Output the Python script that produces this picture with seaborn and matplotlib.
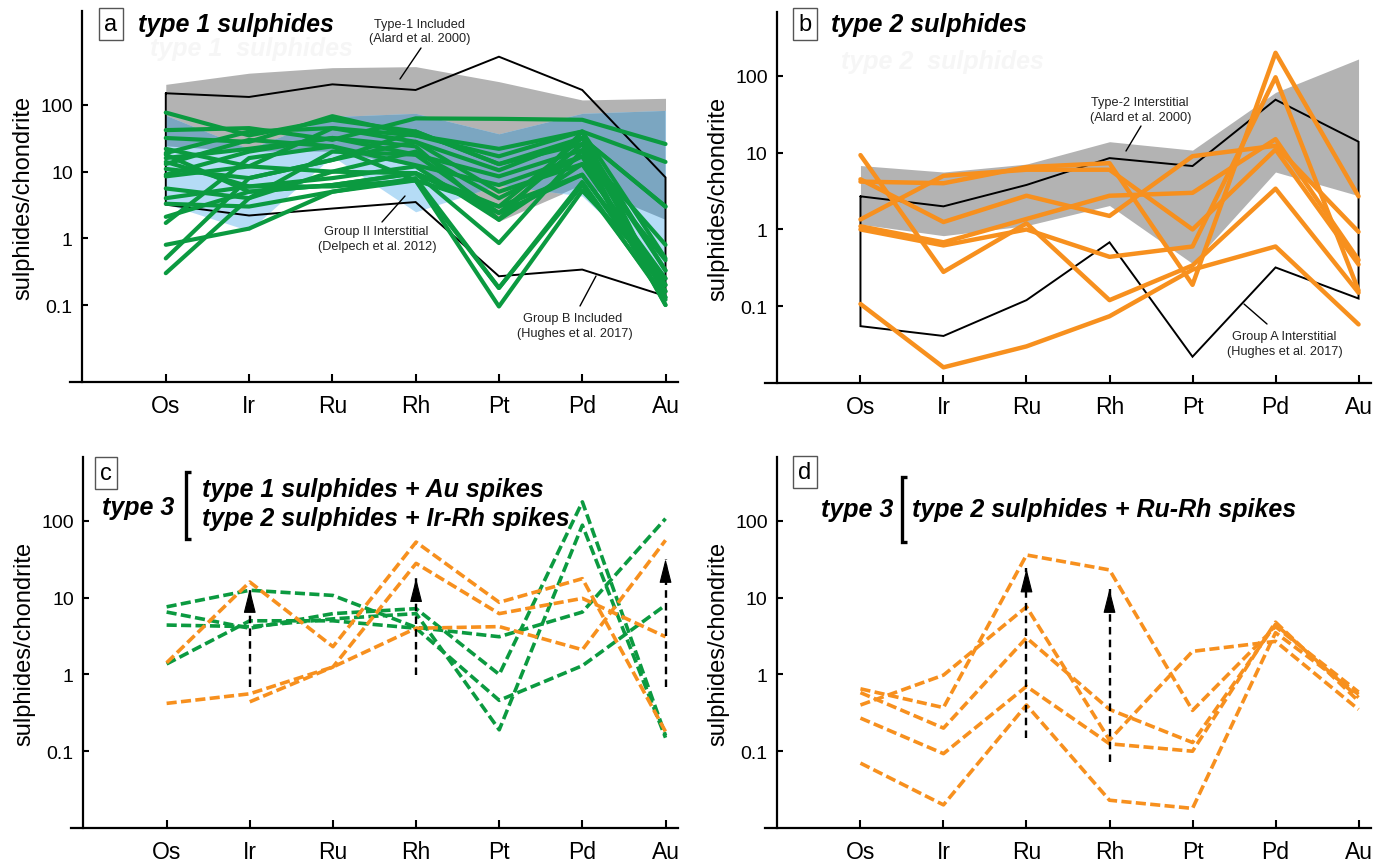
import numpy as np
import pandas as pd
import matplotlib
matplotlib.use("Agg")
import matplotlib.pyplot as plt
import seaborn as sns
from matplotlib.lines import Line2D

# ---------------- data ----------------
elements = ["Os", "Ir", "Ru", "Rh", "Pt", "Pd", "Au"]
ytick_vals = [0.1, 1, 10, 100]
ytick_labels = ["0.1", "1", "10", "100"]

# panel a : type 1 sulphides
a_type1_incl_upper = [204, 300, 363, 376, 224, 119, 126]
a_type1_incl_lower = [24, 20, 20, 12, 1.8, 6.3, 1.9]
a_groupII_upper = [70, 22, 67, 75, 37, 75, 83]
a_groupII_lower = [3.3, 1.3, 17, 2.5, 6.3, 4.3, 0.28]
a_groupB_upper = [150, 132, 204, 168, 530, 168, 8.2]
a_groupB_lower = [3.2, 2.2, 2.8, 3.5, 0.27, 0.34, 0.136]
a_green = [
    [77, 35, 60, 40, 13, 26, 0.33],
    [42, 45, 30, 63, 62, 60, 26],
    [32, 28, 68, 35, 22, 40, 14],
    [19, 40, 45, 28, 10.5, 32, 3.0],
    [16, 22, 32, 18, 8.5, 21, 0.8],
    [13, 30, 24, 12.5, 6.3, 17, 0.47],
    [11, 8, 15, 28, 5, 13, 0.25],
    [8.5, 12, 10, 9.5, 3, 9, 0.2],
    [5.6, 4, 20, 18, 2.4, 26, 0.16],
    [4, 6, 8, 12, 1.9, 40, 0.13],
    [2.1, 5, 6.3, 9.5, 0.85, 21, 0.1],
    [1.7, 16, 24, 7.4, 0.18, 6.3, 0.13],
    [0.8, 1.4, 5, 7.4, 0.095, 5.2, 0.25],
    [0.5, 8, 15, 40, 13, 32, 0.33],
    [0.3, 4, 10, 20, 4, 17, 0.1],
    [22, 12, 45, 35, 17, 40, 0.5],
    [18, 5, 6.3, 9.5, 2.4, 9, 0.16],
    [9, 20, 32, 24, 1.9, 13, 0.2],
    [3.3, 3, 5, 8, 0.18, 7, 0.12],
    [14, 6, 6, 7.4, 3, 32, 3.0],
]

# panel b : type 2 sulphides
b_type2_upper = [6.8, 5.6, 7.1, 13.9, 10.8, 61, 166]
b_type2_lower = [1.17, 0.83, 1.12, 2.05, 0.36, 5.6, 2.75]
b_groupA_upper = [2.7, 2.0, 3.8, 8.5, 6.7, 49, 13.9]
b_groupA_lower = [0.055, 0.041, 0.12, 0.68, 0.022, 0.32, 0.126]
b_orange = [
    [9.3, 0.28, 1.2, 0.12, 0.34, 3.4, 0.15],
    [0.107, 0.016, 0.03, 0.074, 0.3, 0.6, 0.058],
    [4.2, 4.0, 6.5, 7.3, 0.19, 200, 2.7],
    [1.35, 5.0, 6.0, 6.0, 1.0, 11, 0.35],
    [4.5, 1.25, 2.75, 1.5, 9.0, 12.3, 0.93],
    [1.1, 0.68, 1.37, 2.75, 3.0, 15, 0.4],
    [1.0, 0.62, 1.0, 0.44, 0.6, 96, 0.16],
]

# panel c : type 3 (dashed)
c_green = [
    [7.6, 12.5, 10.7, 4.1, 3.1, 6.5, 107],
    [6.5, 4.0, 6.2, 7.2, 1.0, 177, 0.16],
    [4.4, 4.2, 5.3, 6.2, 0.19, 88, 0.15],
    [1.37, 5.0, 5.0, 4.0, 0.46, 1.3, 8.0],
]
c_orange = [
    [1.42, 16, 2.3, 53, 8.7, 17.7, 0.18],
    [0.42, 0.56, 1.25, 4.0, 4.2, 2.1, 56],
    [np.nan, 0.44, 1.25, 28, 6.2, 9.8, 3.1],
]
c_arrow_el = ["Ir", "Rh", "Au"]
c_arrow_from = [0.68, 0.98, 0.68]
c_arrow_to = [13, 18, 32]

# panel d : type 3 (dashed)
d_orange = [
    [0.65, 0.37, 36, 23, 0.34, 4.2, 0.59],
    [0.4, 0.98, 7.6, 0.14, 2.0, 2.7, 0.35],
    [0.58, 0.2, 3.0, 0.35, 0.13, 4.5, 0.5],
    [0.27, 0.093, 0.7, 0.125, 0.1, 4.8, 0.45],
    [0.07, 0.02, 0.4, 0.023, 0.018, 3.5, 0.55],
]
d_arrow_el = ["Ru", "Rh"]
d_arrow_from = [0.15, 0.072]
d_arrow_to = [24, 13]

# ---------------- style ----------------
sns.set_style("ticks")
plt.rcParams["font.family"] = ["Liberation Sans", "DejaVu Sans"]
for k in ["text.color", "axes.labelcolor", "xtick.color", "ytick.color", "axes.edgecolor"]:
    plt.rcParams[k] = "black"

GREEN = "#0b9a40"
ORANGE = "#f7901e"
GRAY = "#b3b3b3"
LBLUE = "#b5dcf6"
DBLUE = "#7ba6c1"

W, H = 1384, 862
fig = plt.figure(figsize=(W / 100, H / 100), dpi=100)


def fx(x):
    return x / W


def fy(y):
    return 1 - y / H


xpos = np.arange(len(elements))


def make_axes(l, r, t, b, ylim):
    ax = fig.add_axes([fx(l), fy(b), (r - l) / W, (b - t) / H])
    ax.set_yscale("log")
    ax.set_xlim(-1.15, 6.15)
    ax.set_ylim(*ylim)
    for s in ["top", "right"]:
        ax.spines[s].set_visible(False)
    ax.spines["left"].set_position(("data", -1))
    ax.spines["left"].set_linewidth(1.6)
    ax.spines["bottom"].set_linewidth(1.6)
    ax.set_yticks(ytick_vals)
    ax.set_yticklabels(ytick_labels)
    ax.yaxis.set_minor_locator(matplotlib.ticker.NullLocator())
    ax.tick_params(axis="x", direction="in", length=6, width=1.5, pad=9, labelsize=16.5)
    ax.tick_params(axis="y", direction="in", length=4, width=1.5, pad=7, labelsize=14)
    return ax


def finish_axes(ax):
    ax.set_xticks(xpos)
    ax.set_xticklabels(elements)
    ax.set_xlim(-1.15, 6.15)
    ax.set_xlabel("")
    ax.set_ylabel("sulphides/chondrite", fontsize=17, labelpad=4)


def long_df(lines):
    rows = []
    for i, vals in enumerate(lines):
        for j, v in enumerate(vals):
            if not np.isnan(v):
                rows.append({"line": i, "x": j, "v": v})
    return pd.DataFrame(rows)


def envelope(ax, upper, lower):
    xs = list(xpos) + list(xpos[::-1]) + [xpos[0]]
    ys = list(upper) + list(lower[::-1]) + [upper[0]]
    ax.plot(xs, ys, color="black", lw=1.4, zorder=3, solid_joinstyle="miter")


def panel_title(letter, bx, by, title, tx):
    fig.text(fx(bx), fy(by), letter, ha="center", va="center", fontsize=17,
             bbox=dict(boxstyle="square,pad=0.22", fc="white", ec="#555555", lw=1.0))
    if title:
        fig.text(fx(tx), fy(by), title, ha="left", va="center", fontsize=18,
                 fontweight="bold", fontstyle="italic")


def note(txt1, txt2, c1, c2, seg):
    fig.text(fx(c1[0]), fy(c1[1]), txt1, ha="center", va="center", fontsize=9.2,
             color="#222222")
    fig.text(fx(c2[0]), fy(c2[1]), txt2, ha="center", va="center", fontsize=9.2,
             color="#222222")
    (x0, y0), (x1, y1) = seg
    fig.add_artist(Line2D([fx(x0), fx(x1)], [fy(y0), fy(y1)], color="black", lw=1.0,
                          transform=fig.transFigure))


def bracket(x, y0, y1):
    fig.add_artist(Line2D([fx(x + 5), fx(x), fx(x), fx(x + 5)], [fy(y0), fy(y0), fy(y1), fy(y1)],
                          color="black", lw=2.4, transform=fig.transFigure,
                          solid_joinstyle="miter", solid_capstyle="butt"))


def arrows(ax, els, frm, to):
    for e, a, b in zip(els, frm, to):
        xi = elements.index(e)
        ax.plot([xi, xi], [a, b], color="black", lw=1.7, ls=(0, (3.2, 2.2)), zorder=6)
        ax.annotate("", xy=(xi, b), xytext=(0, -15), textcoords="offset points",
                    arrowprops=dict(arrowstyle="-|>,head_length=0.95,head_width=0.24",
                                    lw=0.8, color="black", shrinkA=0, shrinkB=0,
                                    mutation_scale=16),
                    zorder=7)


DASH = (0, (2.8, 1.2))

# ---------------- panel a ----------------
axa = make_axes(70, 678, 12, 383, (0.0070, 2570))
g = axa.fill_between(xpos, a_type1_incl_lower, a_type1_incl_upper, color=GRAY, lw=0, zorder=1)
axa.fill_between(xpos, a_groupII_lower, a_groupII_upper, color=LBLUE, lw=0, zorder=1.1)
ov = axa.fill_between(xpos, a_groupII_lower, a_groupII_upper, color=DBLUE, lw=0, zorder=1.2)
ov.set_clip_path(g.get_paths()[0], axa.transData)
envelope(axa, a_groupB_upper, a_groupB_lower)
sns.lineplot(data=long_df(a_green), x="x", y="v", units="line", estimator=None,
             color=GREEN, lw=3.0, ax=axa, legend=False, zorder=4, sort=False)
finish_axes(axa)
panel_title("a", 111, 25, "type 1 sulphides", 138)
fig.text(fx(251), fy(49), "type 1  sulphides", ha="center", va="center", fontsize=18,
         fontweight="bold", fontstyle="italic", color="#f6f6f6", zorder=0)
note("Type-1 Included", "(Alard et al. 2000)", (419, 25), (420, 39), ((421, 49), (400, 80)))
note("Group II Interstitial", "(Delpech et al. 2012)", (376, 232), (377, 247),
     ((405, 197), (382, 223)))
note("Group B Included", "(Hughes et al. 2017)", (573, 319), (575, 334),
     ((596, 277), (580, 307)))

# ---------------- panel b ----------------
axb = make_axes(765, 1371, 13, 384, (0.01, 680))
axb.fill_between(xpos, b_type2_lower, b_type2_upper, color=GRAY, lw=0, zorder=1)
envelope(axb, b_groupA_upper, b_groupA_lower)
sns.lineplot(data=long_df(b_orange), x="x", y="v", units="line", estimator=None,
             color=ORANGE, lw=3.2, ax=axb, legend=False, zorder=4, sort=False)
finish_axes(axb)
panel_title("b", 805, 25, "type 2 sulphides", 831)
fig.text(fx(942), fy(62), "type 2  sulphides", ha="center", va="center", fontsize=18,
         fontweight="bold", fontstyle="italic", color="#f6f6f6", zorder=0)
note("Type-2 Interstitial", "(Alard et al. 2000)", (1140, 103), (1141, 118),
     ((1141, 127), (1126, 152)))
note("Group A Interstitial", "(Hughes et al. 2017)", (1284, 337), (1285, 352),
     ((1267, 325), (1244, 305)))

# ---------------- panel c ----------------
axc = make_axes(71, 678, 458, 829, (0.01, 680))
sns.lineplot(data=long_df(c_green), x="x", y="v", units="line", estimator=None,
             color=GREEN, lw=2.6, linestyle=DASH, ax=axc, legend=False, zorder=4, sort=False)
sns.lineplot(data=long_df(c_orange), x="x", y="v", units="line", estimator=None,
             color=ORANGE, lw=2.6, linestyle=DASH, ax=axc, legend=False, zorder=4, sort=False)
finish_axes(axc)
arrows(axc, c_arrow_el, c_arrow_from, c_arrow_to)
panel_title("c", 106, 474, None, None)
fig.text(fx(138), fy(508), "type 3", ha="center", va="center", fontsize=18,
         fontweight="bold", fontstyle="italic")
bracket(186, 473, 540)
fig.text(fx(202), fy(490), "type 1 sulphides + Au spikes", ha="left", va="center",
         fontsize=18, fontweight="bold", fontstyle="italic")
fig.text(fx(202), fy(519), "type 2 sulphides + Ir-Rh spikes", ha="left", va="center",
         fontsize=18, fontweight="bold", fontstyle="italic")

# ---------------- panel d ----------------
axd = make_axes(765, 1371, 458, 829, (0.01, 680))
sns.lineplot(data=long_df(d_orange), x="x", y="v", units="line", estimator=None,
             color=ORANGE, lw=2.6, linestyle=DASH, ax=axd, legend=False, zorder=4, sort=False)
finish_axes(axd)
arrows(axd, d_arrow_el, d_arrow_from, d_arrow_to)
panel_title("d", 805, 473, None, None)
fig.text(fx(893), fy(510), "type 3", ha="right", va="center", fontsize=18,
         fontweight="bold", fontstyle="italic")
bracket(902, 478, 543)
fig.text(fx(912), fy(510), "type 2 sulphides + Ru-Rh spikes", ha="left", va="center",
         fontsize=18, fontweight="bold", fontstyle="italic")

fig.savefig("out.png", dpi=100)
